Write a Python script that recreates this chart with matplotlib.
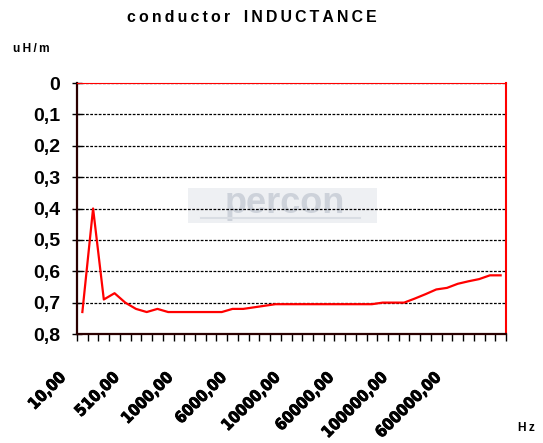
import matplotlib
matplotlib.use("Agg")
import matplotlib.pyplot as plt
import matplotlib.transforms as mtransforms
import matplotlib.patheffects as pe
from matplotlib.patches import Rectangle
from matplotlib import font_manager
import numpy as np

plt.rcParams['font.family'] = ['Liberation Sans', 'DejaVu Sans']

# ---- data ----
inductance = [0.73, 0.40, 0.69, 0.67, 0.70, 0.72, 0.73, 0.72, 0.73, 0.73,
              0.73, 0.73, 0.73, 0.73, 0.72, 0.72, 0.715, 0.71, 0.705, 0.705,
              0.705, 0.705, 0.705, 0.705, 0.705, 0.705, 0.705, 0.705, 0.70, 0.70,
              0.70, 0.687, 0.673, 0.658, 0.653, 0.64, 0.632, 0.625, 0.613, 0.613]
label_pos = [0, 5, 10, 15, 20, 25, 30, 35]
x_labels = ["10,00", "510,00", "1000,00", "6000,00", "10000,00",
            "60000,00", "100000,00", "600000,00"]
y_ticks = [0, 0.1, 0.2, 0.3, 0.4, 0.5, 0.6, 0.7, 0.8]
y_labels = ["0", "0,1", "0,2", "0,3", "0,4", "0,5", "0,6", "0,7", "0,8"]

condensed = any(f.name == 'DejaVu Sans' and 'ondensed' in str(f.stretch) + f.fname
                for f in font_manager.fontManager.ttflist)

W, H = 543, 443
DPI = 100
fig = plt.figure(figsize=(W / DPI, H / DPI), dpi=DPI)
L, R, T, B = 77, 506, 83, 334
ax = fig.add_axes([L / W, 1 - B / H, (R - L) / W, (B - T) / H])

n = len(inductance)
x = np.arange(n)

# watermark
ax.add_patch(Rectangle((0.259, 0.442), 0.44, 0.14, transform=ax.transAxes,
                       facecolor='#eef0f3', edgecolor='none', zorder=0))
TS = "\u2009"
ax.text(0.485, 0.52, "percon", transform=ax.transAxes,
        ha='center', va='center', fontsize=26, fontweight='bold',
        color='#cdd2da', zorder=0.5)
ax.plot([0.29, 0.66], [0.462, 0.462], transform=ax.transAxes,
        color='#d9dde3', lw=1.5, zorder=0.5)

# gridlines
for yv in y_ticks[:-1]:
    ax.axhline(yv, color='black', lw=0.9, linestyle=(0, (2.2, 1.2)), zorder=1)

ax.plot(x, inductance, color='#ff0000', lw=1.6, zorder=3, clip_on=False)

ax.set_xlim(-0.5, n - 0.5)
ax.set_ylim(0.8, 0)

ax.set_yticks(y_ticks)
ax.set_yticklabels(y_labels, fontsize=14, fontweight='bold')
ax.tick_params(axis='y', direction='inout', length=7.7, width=1.0, pad=8.2,
               color='black')

ax.set_xticks(np.arange(-0.5, n, 1.0))
ax.set_xticklabels([])
ax.tick_params(axis='x', direction='out', length=5, width=1.0, color='black')

for sp in ('left', 'bottom'):
    ax.spines[sp].set_color('#2a0000')
    ax.spines[sp].set_linewidth(1.6)
ax.spines['right'].set_color('#ff0000')
ax.spines['right'].set_linewidth(1.5)
ax.spines['top'].set_color('#ff0000')
ax.spines['top'].set_linewidth(0.8)

# x labels rotated
if condensed:
    xl_kw = dict(family=['DejaVu Sans'], fontstretch='condensed', fontsize=11.5)
else:
    xl_kw = dict(family=['Liberation Sans'], fontsize=12.0)
for pos, lab in zip(label_pos, x_labels):
    off = mtransforms.ScaledTranslation(-19 / DPI, -41 / DPI, fig.dpi_scale_trans)
    ax.text(pos, 0, lab, transform=ax.get_xaxis_transform() + off,
            rotation=45, rotation_mode='anchor', ha='right', va='center',
            fontweight='bold', color='black',
            path_effects=[pe.withStroke(linewidth=0.6, foreground='black')],
            **xl_kw)

# title & axis unit labels (letter spaced)
fig.text(252 / W, 1 - 17 / H,
         TS.join("conductor") + TS + " " + TS + TS + TS.join("INDUCTANCE"),
         ha='center', va='center', fontsize=11.4, fontweight='bold')
fig.text(13 / W, 1 - 48.5 / H, TS.join("uH/m"), ha='left', va='center',
         fontsize=8.6, fontweight='bold')
fig.text(518 / W, 1 - 428 / H, TS.join("Hz"), ha='left', va='center',
         fontsize=8.6, fontweight='bold')

fig.savefig("out.png", dpi=DPI)
